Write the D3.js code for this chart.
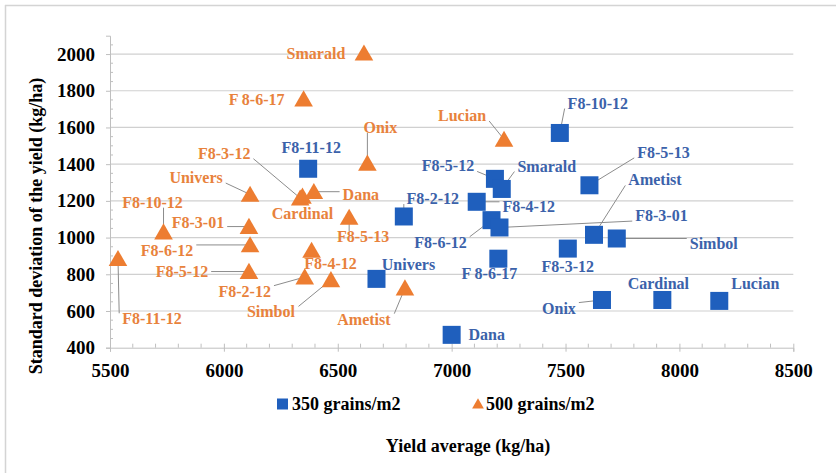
<!DOCTYPE html>
<html>
<head>
<meta charset="utf-8">
<script src="https://cdn.jsdelivr.net/npm/d3@7"></script>
<style>
  body { margin: 0; background: #fff; }
  svg { display: block; font-family: "Liberation Serif", "Times New Roman", serif; font-weight: bold; }
</style>
</head>
<body>
<svg id="chart"></svg>
<script>
var viewWidth = 836;
var viewHeight = 473;

// 350 grains/m2 series
var names350 = ["F8-11-12", "F8-2-12", "F8-5-12", "Smarald", "F8-4-12", "F8-6-12", "F8-3-01", "F 8-6-17", "F8-3-12",
  "F8-5-13", "Ametist", "Simbol", "F8-10-12", "Onix", "Cardinal", "Lucian", "Univers", "Dana"];
var yield350 = [6370, 6790, 7190, 7220, 7110, 7175, 7210, 7205, 7510, 7605, 7625, 7725, 7475, 7660, 7925, 8175, 6670, 7000];
var sd350 = [1375, 1115, 1320, 1265, 1195, 1095, 1055, 885, 940, 1285, 1015, 995, 1570, 660, 660, 655, 775, 470];

// 500 grains/m2 series
var names500 = ["Smarald", "F 8-6-17", "Onix", "Lucian", "F8-3-12", "Cardinal", "Dana", "Univers", "F8-10-12",
  "F8-3-01", "F8-6-12", "F8-5-12", "F8-5-13", "F8-4-12", "F8-2-12", "Simbol", "Ametist", "F8-11-12"];
var yield500 = [6615, 6350, 6630, 7230, 6335, 6345, 6395, 6115, 5735, 6110, 6115, 6110, 6550, 6385, 6355, 6470, 6795, 5535];
var sd500 = [2005, 1755, 1405, 1535, 1215, 1225, 1250, 1235, 1030, 1060, 960, 815, 1110, 930, 785, 770, 725, 885];

var xTicks = [5500, 6000, 6500, 7000, 7500, 8000, 8500];
var yTicks = [400, 600, 800, 1000, 1200, 1400, 1600, 1800, 2000];
var legendLabels = ["350 grains/m2", "500 grains/m2"];

// label placement (pixel offset from the marker, leader line on/off)
var labelLayout350 = [[3, -21, 0], [29, -18, 1], [-47, -13, 1], [45, -23, 1], [52, 5, 1], [-51, 22, 1], [162, -12, 1],
  [-9, 15, 0], [0, 18, 0], [74, -33, 1], [61, -55, 1], [97, 5, 1], [38, -30, 1], [-43, 8, 1], [-4, -17, 0],
  [36, -18, 0], [32, -14, 0], [35, 0, 0]];
var labelLayout500 = [[-48, 0, 0], [-47, 0, 0], [13, -36, 1], [-42, -24, 1], [-76, -45, 1], [0, 17, 0], [47, 3, 1],
  [-54, -17, 1], [-11, -30, 1], [-51, -4, 1], [-83, 5, 1], [-67, 0, 1], [14, 19, 1], [19, 13, 0], [-60, 14, 1],
  [-60, 32, 1], [-41, 31, 1], [34, 60, 1]];

var blue = "#1f5fbd", blueText = "#3b62aa";
var orange = "#ed7d31", orangeText = "#e8823c";

var svg = d3.select("#chart")
    .attr("width", viewWidth)
    .attr("height", viewHeight);

// frame (only top and left edges show in the reference)
svg.append("line").attr("x1", 5).attr("x2", viewWidth).attr("y1", 5.5).attr("y2", 5.5)
    .attr("stroke", "#d4d4d4").attr("stroke-width", 1.5);
svg.append("line").attr("x1", 5.5).attr("x2", 5.5).attr("y1", 5).attr("y2", viewHeight)
    .attr("stroke", "#d4d4d4").attr("stroke-width", 1.5);

var x = d3.scaleLinear().domain([5500, 8500]).range([110, 793.3]);
var y = d3.scaleLinear().domain([400, 2100]).range([347.7, 35.7]);

// gridlines
svg.append("g").selectAll("line")
    .data(yTicks.filter(function(d) { return d > 400; }))
  .enter().append("line")
    .attr("x1", x(5500)).attr("x2", x(8500))
    .attr("y1", function(d) { return y(d); })
    .attr("y2", function(d) { return y(d); })
    .attr("stroke", "#d0d0d0").attr("stroke-width", 1.2);

// y axis
var yAxis = svg.append("g").attr("transform", "translate(" + x(5500) + ",0)")
    .call(d3.axisLeft(y).tickValues(yTicks).tickSize(4).tickPadding(11).tickFormat(d3.format("d")));
yAxis.select(".domain").attr("stroke", "#bfbfbf");
yAxis.selectAll(".tick line").attr("stroke", "#bfbfbf");
yAxis.selectAll("text").style("font-size", "19px").style("font-family", "Liberation Serif").attr("fill", "#000");
svg.append("g").selectAll("line")
    .data(d3.range(450, 2100, 50).filter(function(d) { return d % 200 != 0; }))
  .enter().append("line")
    .attr("x1", x(5500)).attr("x2", x(5500) + 3)
    .attr("y1", function(d) { return y(d); }).attr("y2", function(d) { return y(d); })
    .attr("stroke", "#bfbfbf");

// x axis
var xAxis = svg.append("g").attr("transform", "translate(0," + y(400) + ")")
    .call(d3.axisBottom(x).tickValues(xTicks).tickSize(4).tickPadding(12).tickFormat(d3.format("d")));
xAxis.select(".domain").attr("stroke", "#bfbfbf");
xAxis.selectAll(".tick line").attr("stroke", "#bfbfbf").attr("y1", -4);
xAxis.selectAll("text").style("font-size", "19px").style("font-family", "Liberation Serif").attr("fill", "#000");
svg.append("g").selectAll("line")
    .data(d3.range(5600, 8500, 100).filter(function(d) { return d % 500 != 0; }))
  .enter().append("line")
    .attr("x1", function(d) { return x(d); }).attr("x2", function(d) { return x(d); })
    .attr("y1", y(400)).attr("y2", y(400) - 4)
    .attr("stroke", "#bfbfbf");

// axis titles
svg.append("text")
    .attr("transform", "translate(36," + 226 + ") rotate(-90)")
    .attr("text-anchor", "middle").attr("dy", "0.35em")
    .style("font-size", "18px").attr("fill", "#000")
    .text("Standard deviation of the yield (kg/ha)");
svg.append("text")
    .attr("x", 468).attr("y", 452)
    .attr("text-anchor", "middle")
    .style("font-size", "18px").attr("fill", "#000")
    .text("Yield average (kg/ha)");

function makePoints(names, xs, ys, layout) {
  return names.map(function(n, i) {
    return { name: n, x: xs[i], y: ys[i], dx: layout[i][0], dy: layout[i][1], leader: layout[i][2] };
  });
}
var pts350 = makePoints(names350, yield350, sd350, labelLayout350);
var pts500 = makePoints(names500, yield500, sd500, labelLayout500);

var leaderLayer = svg.append("g");
var markerLayer = svg.append("g");
var labelLayer = svg.append("g");

var tri = d3.symbol().type(d3.symbolTriangle).size(150);

markerLayer.selectAll(".sq")
    .data(pts350)
  .enter().append("rect")
    .attr("class", "sq")
    .attr("x", function(d) { return x(d.x) - 9; })
    .attr("y", function(d) { return y(d.y) - 9; })
    .attr("width", 18).attr("height", 18)
    .attr("fill", blue);

markerLayer.selectAll(".tri")
    .data(pts500)
  .enter().append("path")
    .attr("class", "tri")
    .attr("d", tri)
    .attr("transform", function(d) { return "translate(" + x(d.x) + "," + (y(d.y) + 2) + ")"; })
    .attr("fill", orange);

function drawLabels(pts, color) {
  pts.forEach(function(d) {
    var px = x(d.x), py = y(d.y);
    var t = labelLayer.append("text")
        .attr("x", px + d.dx).attr("y", py + d.dy)
        .attr("dy", "0.35em")
        .attr("text-anchor", "middle")
        .style("font-size", "16px")
        .attr("fill", color)
        .text(d.name);
    if (d.leader) {
      var b = t.node().getBBox();
      var x0 = b.x - 3, x1 = b.x + b.width + 3, y0 = b.y + 3, y1 = b.y + b.height - 3;
      var lx = Math.max(x0, Math.min(px, x1));
      var ly = Math.max(y0, Math.min(py, y1));
      if (lx > x0 && lx < x1 && (ly == y0 || ly == y1)) { lx = Math.max(x0, Math.min(px, x1)); }
      leaderLayer.append("line")
          .attr("x1", lx).attr("y1", ly)
          .attr("x2", px).attr("y2", py)
          .attr("stroke", "#8c8c8c").attr("stroke-width", 1);
    }
  });
}
drawLabels(pts350, blueText);
drawLabels(pts500, orangeText);

// legend
var legend = svg.append("g");
legend.append("rect").attr("x", 277).attr("y", 398.5).attr("width", 11).attr("height", 11).attr("fill", blue);
legend.append("text").attr("x", 292).attr("y", 404).attr("dy", "0.35em")
    .style("font-size", "18px").attr("fill", "#000").text(legendLabels[0]);
legend.append("path").attr("d", d3.symbol().type(d3.symbolTriangle).size(60))
    .attr("transform", "translate(478,405)").attr("fill", orange);
legend.append("text").attr("x", 486).attr("y", 404).attr("dy", "0.35em")
    .style("font-size", "18px").attr("fill", "#000").text(legendLabels[1]);
</script>
</body>
</html>
